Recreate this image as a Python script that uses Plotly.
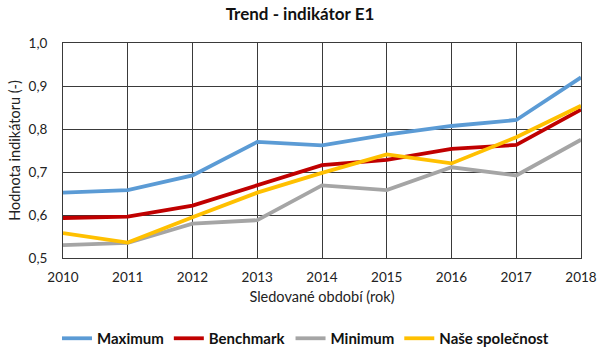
import plotly.graph_objects as go

years = [2010, 2011, 2012, 2013, 2014, 2015, 2016, 2017, 2018]
maximum = [0.652, 0.658, 0.692, 0.770, 0.762, 0.787, 0.807, 0.821, 0.920]
benchmark = [0.593, 0.596, 0.622, 0.668, 0.716, 0.728, 0.754, 0.763, 0.845]
minimum = [0.530, 0.535, 0.580, 0.588, 0.669, 0.658, 0.711, 0.692, 0.775]
nase = [0.558, 0.536, 0.595, 0.652, 0.698, 0.741, 0.720, 0.781, 0.854]

series = [
    ("Maximum", maximum, "#5B9BD5"),
    ("Benchmark", benchmark, "#C00000"),
    ("Minimum", minimum, "#A5A5A5"),
    ("Naše společnost", nase, "#FFC000"),
]

FONT = "Lato, Calibri, Arial, sans-serif"

fig = go.Figure()
for name, vals, col in series:
    fig.add_trace(go.Scatter(x=years, y=vals, mode="lines", name="<b>" + name + "</b>",
                             line=dict(color=col, width=3.8)))

fig.update_layout(
    width=600, height=353,
    margin=dict(l=63, r=19, t=43, b=95, autoexpand=False),
    paper_bgcolor="white", plot_bgcolor="white",
    separators=", ",
    font=dict(family=FONT, size=13, color="#222222"),
    title=dict(text="<b>Trend - indikátor E1</b>", xref="container", x=0.5, xanchor="center",
               yref="container", y=0.959, yanchor="middle", font=dict(size=17, color="#111111")),
    showlegend=True,
    legend=dict(orientation="h", xref="container", x=0.095, xanchor="left",
                yref="container", y=0.041, yanchor="middle",
                font=dict(size=15, color="#111111", family=FONT),
                itemwidth=30, tracegroupgap=0),
    xaxis=dict(range=[2010, 2018], tickmode="linear", tick0=2010, dtick=1,
               showgrid=True, gridcolor="#3a3a3a", gridwidth=1,
               showline=True, linecolor="#3a3a3a", linewidth=1, mirror=True,
               ticks="", ticklabelstandoff=7, tickfont=dict(size=13.5),
               title=dict(text="Sledované období (rok)", font=dict(size=14.5), standoff=7),
               zeroline=False, automargin=False),
    yaxis=dict(range=[0.5, 1.0], tickmode="linear", tick0=0.5, dtick=0.1,
               tickformat=".1f",
               showgrid=True, gridcolor="#3a3a3a", gridwidth=1,
               showline=True, linecolor="#3a3a3a", linewidth=1, mirror=True,
               ticks="", ticklabelstandoff=12, tickfont=dict(size=13.5),
               title=dict(text="Hodnota indikátoru (-)", font=dict(size=14.5), standoff=4),
               zeroline=False, automargin=False),
)
fig.write_html("out.html")
